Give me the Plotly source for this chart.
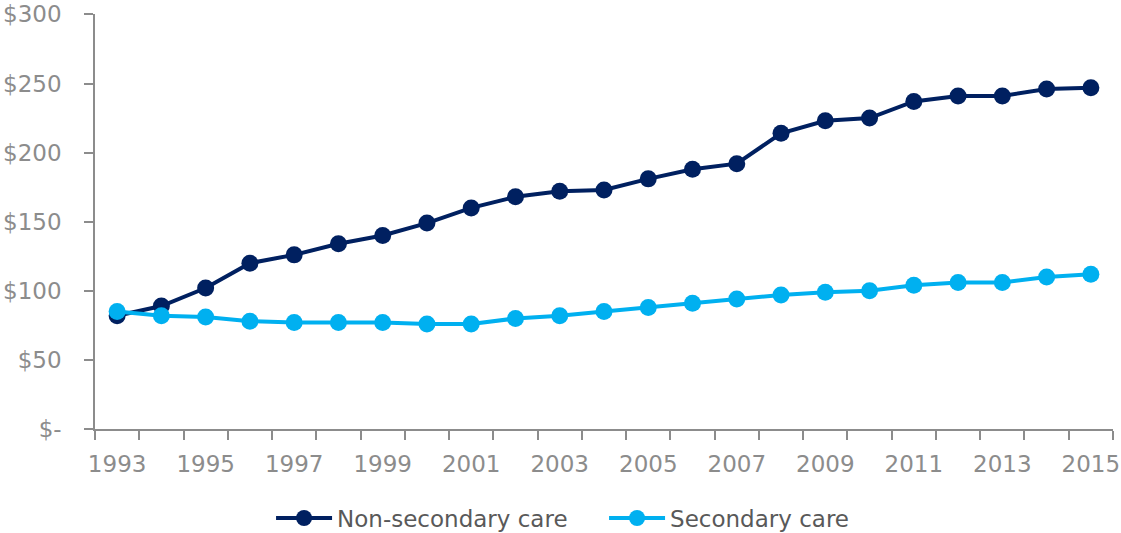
import plotly.graph_objects as go

# Annual spending per person, 1993-2015
years = list(range(1993, 2016))
non_secondary = [82, 89, 102, 120, 126, 134, 140, 149, 160, 168, 172, 173,
                 181, 188, 192, 214, 223, 225, 237, 241, 241, 246, 247]
secondary = [85, 82, 81, 78, 77, 77, 77, 76, 76, 80, 82, 85,
             88, 91, 94, 97, 99, 100, 104, 106, 106, 110, 112]

y_ticks = [0, 50, 100, 150, 200, 250, 300]
y_tick_text = ["$-", "$50", "$100", "$150", "$200", "$250", "$300"]
x_label_years = list(range(1993, 2016, 2))

DARK = "#002060"
LIGHT = "#00B0F0"
AXIS_GREY = "#8C8C8C"
FONT = "DejaVu Sans"

fig = go.Figure()
fig.add_trace(go.Scatter(
    x=years, y=non_secondary, name="Non-secondary care",
    mode="lines+markers",
    line=dict(color=DARK, width=4),
    marker=dict(color=DARK, size=17),
))
fig.add_trace(go.Scatter(
    x=years, y=secondary, name="Secondary care",
    mode="lines+markers",
    line=dict(color=LIGHT, width=4),
    marker=dict(color=LIGHT, size=17),
))

fig.update_layout(
    width=1121, height=533,
    margin=dict(l=95, r=8, t=14, b=104),
    paper_bgcolor="white", plot_bgcolor="white",
    font=dict(family=FONT, size=23, color=AXIS_GREY),
    showlegend=True,
    legend=dict(
        orientation="h",
        xref="container", yref="container",
        x=0.2418, xanchor="left",
        y=0.028, yanchor="middle",
        font=dict(family=FONT, size=23, color="#595959"),
        itemwidth=56,
        entrywidth=262,
        bgcolor="rgba(0,0,0,0)",
    ),
    xaxis=dict(
        range=[1992.5, 2015.5],
        automargin=False,
        tickmode="array", tickvals=x_label_years,
        ticktext=[str(y) for y in x_label_years],
        ticks="",
        ticklabelstandoff=14,
        showgrid=False, zeroline=False,
        showline=True, linecolor=AXIS_GREY, linewidth=1.5,
        minor=dict(tick0=1992.5, dtick=1, ticks="outside", ticklen=9,
                   tickcolor=AXIS_GREY, tickwidth=1.5, showgrid=False),
        tickfont=dict(family=FONT, size=23, color=AXIS_GREY),
    ),
    yaxis=dict(
        range=[0, 300.3],
        automargin=False,
        tickmode="array", tickvals=y_ticks, ticktext=y_tick_text,
        ticks="outside", ticklen=9, tickcolor=AXIS_GREY, tickwidth=1.5,
        ticklabelstandoff=18,
        ticklabeloverflow="allow",
        showgrid=False, zeroline=False,
        showline=True, linecolor=AXIS_GREY, linewidth=1.5,
        tickfont=dict(family=FONT, size=23, color=AXIS_GREY),
    ),
)

fig.write_html("out.html")
